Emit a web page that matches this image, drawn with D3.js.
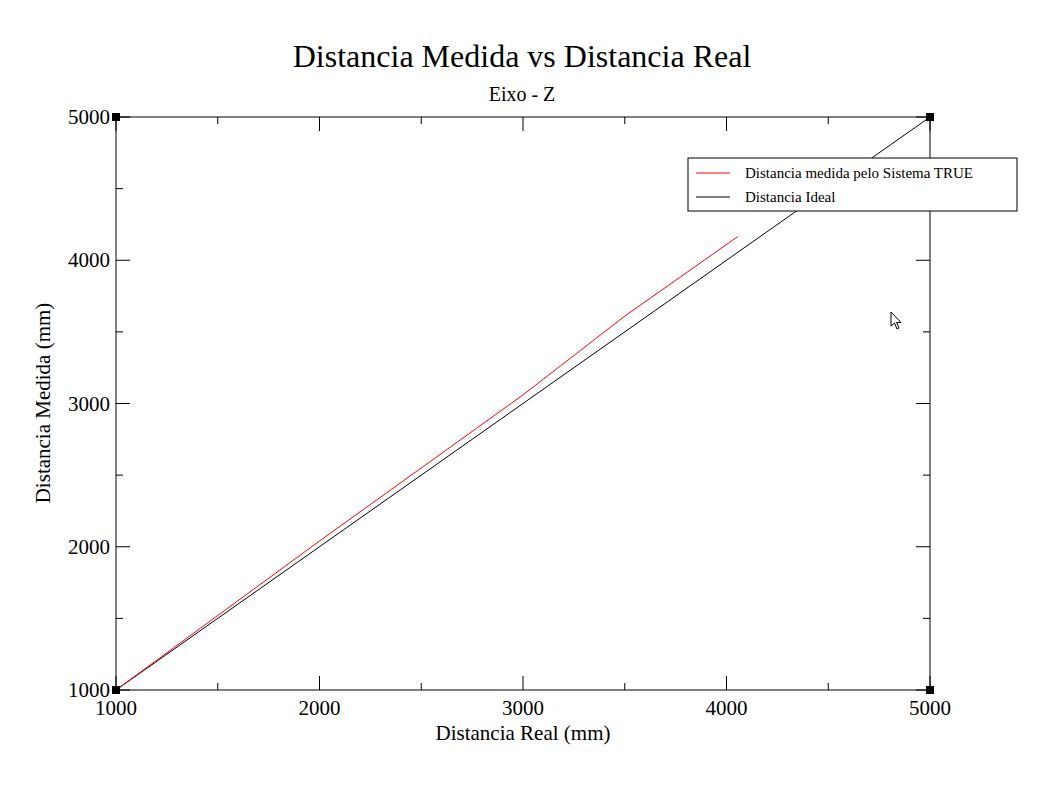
<!DOCTYPE html>
<html><head><meta charset="utf-8">
<script src="https://cdn.jsdelivr.net/npm/d3@7"></script>
<style>body{margin:0;background:#fff}svg{display:block;font-family:"Liberation Serif","Times New Roman",serif}</style>
</head><body>
<svg id="c" width="1039" height="786"></svg>
<script>
// measured series (mm)
var realX = [1000, 1500, 2000, 2500, 3000, 3500, 4055];
var medida = [1000, 1520, 2040, 2550, 3060, 3610, 4165];
var idealX = [1000, 5000];
var ideal = [1000, 5000];
var majorTicks = [1000, 2000, 3000, 4000, 5000];
var minorTicks = [1500, 2500, 3500, 4500];
var seriesNames = ["Distancia medida pelo Sistema TRUE", "Distancia Ideal"];
var seriesColors = ["#ff0000", "#000000"];

var svg = d3.select("#c");
var L = 116, R = 930, T = 117, B = 690;
var x = d3.scaleLinear().domain([1000, 5000]).range([L, R]);
var y = d3.scaleLinear().domain([1000, 5000]).range([B, T]);

svg.append("rect").attr("x", L).attr("y", T).attr("width", R - L).attr("height", B - T)
  .attr("fill", "none").attr("stroke", "#000");

// ticks, all pointing inward
function ticks(vals, len) {
  vals.forEach(function(v) {
    svg.append("line").attr("x1", x(v)).attr("x2", x(v)).attr("y1", B).attr("y2", B - len).attr("stroke", "#000");
    svg.append("line").attr("x1", x(v)).attr("x2", x(v)).attr("y1", T).attr("y2", T + len).attr("stroke", "#000");
    svg.append("line").attr("y1", y(v)).attr("y2", y(v)).attr("x1", L).attr("x2", L + len).attr("stroke", "#000");
    svg.append("line").attr("y1", y(v)).attr("y2", y(v)).attr("x1", R).attr("x2", R - len).attr("stroke", "#000");
  });
}
ticks(majorTicks, 14);
ticks(minorTicks, 7);

majorTicks.forEach(function(v) {
  svg.append("text").attr("x", x(v)).attr("y", B + 25).attr("text-anchor", "middle")
    .attr("font-size", 21).text(v);
  svg.append("text").attr("x", L - 6).attr("y", y(v) + 7).attr("text-anchor", "end")
    .attr("font-size", 21).text(v);
});

var line = d3.line().x(function(d) { return x(d[0]); }).y(function(d) { return y(d[1]); });
svg.append("path").datum(d3.zip(idealX, ideal)).attr("d", line)
  .attr("fill", "none").attr("stroke", seriesColors[1]);
svg.append("path").datum(d3.zip(realX, medida)).attr("d", line)
  .attr("fill", "none").attr("stroke", seriesColors[0]);

// corner handles
[[L, T], [R, T], [L, B], [R, B]].forEach(function(p) {
  svg.append("rect").attr("x", p[0] - 4).attr("y", p[1] - 4).attr("width", 8).attr("height", 8).attr("fill", "#000");
});

svg.append("text").attr("x", 522).attr("y", 67).attr("text-anchor", "middle").attr("font-size", 32)
  .text("Distancia Medida vs Distancia Real");
svg.append("text").attr("x", 522).attr("y", 101).attr("text-anchor", "middle").attr("font-size", 20)
  .text("Eixo - Z");
svg.append("text").attr("x", 523).attr("y", 740).attr("text-anchor", "middle").attr("font-size", 21)
  .text("Distancia Real (mm)");
svg.append("text").attr("transform", "translate(50,403) rotate(-90)").attr("text-anchor", "middle")
  .attr("font-size", 21).text("Distancia Medida (mm)");

// legend
var lg = svg.append("g").attr("transform", "translate(688,158)");
lg.append("rect").attr("width", 329).attr("height", 53).attr("fill", "#fff").attr("stroke", "#000");
seriesNames.forEach(function(n, i) {
  lg.append("line").attr("x1", 8).attr("x2", 42).attr("y1", 15 + i * 24).attr("y2", 15 + i * 24)
    .attr("stroke", seriesColors[i]);
  lg.append("text").attr("x", 57).attr("y", 20 + i * 24).attr("font-size", 15).text(n);
});

// mouse pointer left in the screenshot
svg.append("path").attr("transform", "translate(891,312)")
  .attr("d", "M0,0 L0,14 L3.5,11 L6,17 L8,16 L5.5,10.5 L10,10.5 Z")
  .attr("fill", "#fff").attr("stroke", "#000").attr("stroke-width", 1);
</script>
</body></html>
